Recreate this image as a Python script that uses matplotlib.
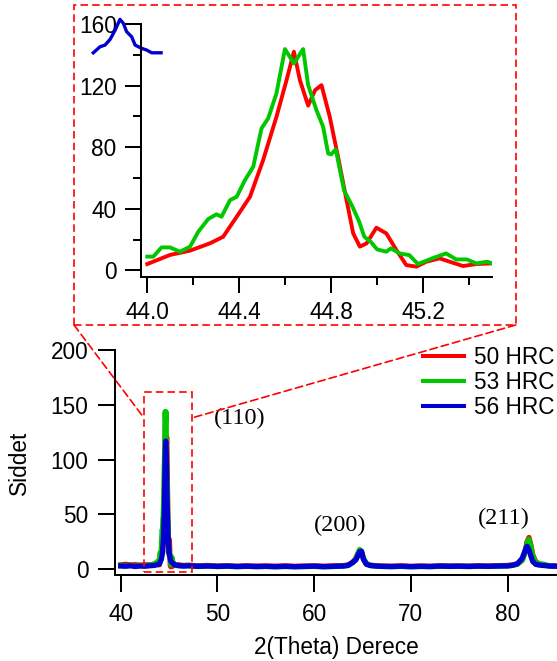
import matplotlib
matplotlib.use("Agg")
import matplotlib.pyplot as plt
from matplotlib.patches import Rectangle, ConnectionPatch
from matplotlib.ticker import MultipleLocator

plt.rcParams['font.family'] = ['Liberation Sans', 'DejaVu Sans']

# ---------------- data ----------------
series_labels = ["50 HRC", "53 HRC", "56 HRC"]
series_colors = ["#ff0000", "#00c800", "#0000d0"]

# detail around the (110) peak (inset)
inset_red_x = [44.0, 44.099, 44.186, 44.272, 44.33, 44.389, 44.447, 44.504, 44.562, 44.606,
               44.638, 44.664, 44.70, 44.73, 44.758, 44.794, 44.83, 44.867, 44.896, 44.925,
               44.954, 44.997, 45.04, 45.084, 45.127, 45.171, 45.214, 45.272, 45.316, 45.374,
               45.432, 45.497]
inset_red_y = [4.1, 10, 12.8, 17.5, 21.8, 34.8, 47.8, 71.6, 99.7, 123.6,
               142, 123.6, 107, 117, 120.3, 99.7, 73.7, 45.6, 24, 15.4,
               17.5, 27.7, 24, 13.2, 3.4, 2.4, 5.6, 7.8, 5.6, 2.8,
               4.1, 4.5]
inset_green_x = [44.0, 44.026, 44.062, 44.099, 44.142, 44.186, 44.222, 44.265, 44.301, 44.323,
                 44.36, 44.389, 44.425, 44.461, 44.497, 44.526, 44.562, 44.599, 44.638, 44.678,
                 44.70, 44.736, 44.765, 44.787, 44.80, 44.82, 44.856, 44.893, 44.922, 44.944,
                 44.972, 45.0, 45.04, 45.06, 45.098, 45.14, 45.178, 45.24, 45.30, 45.344,
                 45.39, 45.432, 45.48, 45.5]
inset_green_y = [8.9, 8.9, 14.9, 14.9, 12.1, 15.4, 25.1, 33.3, 36.4, 34.8,
                 45.6, 47.8, 58.6, 67.3, 92.2, 98.7, 114.9, 143.7, 134.4, 143.7,
                 120.3, 104.1, 93.3, 75.9, 75.3, 78.6, 52.1, 41.3, 31.6, 21.9,
                 18.6, 13.6, 12.1, 14.3, 11.0, 9.9, 4.1, 7.8, 11.0, 7.1,
                 7.1, 4.5, 5.6, 4.5]
# the displaced blue trace drawn at the inset's upper-left corner
inset_blue_x = [43.765, 43.794, 43.816, 43.838, 43.86, 43.881, 43.896, 43.91, 43.932, 43.947,
                43.975, 43.997, 44.019, 44.06]
inset_blue_y = [141.3, 145.2, 146.3, 150, 156, 163, 160.4, 155, 151.7, 146.3,
                144.2, 143.1, 141.3, 141.3]

# full pattern, left of the (110) peak
left_x = [40.0, 40.5, 41.0, 41.5, 42.0, 42.5, 43.0, 43.5, 43.8]
left_red = [4.0, 4.5, 4.0, 4.2, 3.8, 4.0, 4.2, 4.5, 4.5]
left_green = [3.5, 3.2, 3.6, 3.0, 3.4, 3.2, 3.8, 5.0, 7.0]
left_blue = [3.0, 2.8, 3.2, 2.6, 3.0, 2.8, 3.2, 3.6, 4.2]

# blue (110) peak
peak_blue_x = [44.0, 44.2, 44.3, 44.4, 44.5, 44.55, 44.6, 44.65, 44.7, 44.75,
               44.8, 44.9, 45.0, 45.2, 45.5]
peak_blue_y = [5, 9, 14, 25, 50, 75, 105, 117, 108, 85,
               60, 30, 15, 7, 4.5]

# right of the (110) peak: (200) and (211) reflections
right_x = [45.7, 46, 46.5, 47, 48, 49, 50, 51, 52, 53, 54, 55, 56, 57, 58, 59, 60, 61, 62,
           63, 63.5, 64.0, 64.3, 64.5, 64.7, 64.9, 65.1, 65.4, 65.8, 66.5, 67, 68, 69, 70,
           71, 72, 73, 74, 75, 76, 77, 78, 79, 80, 80.5, 81, 81.5, 81.8, 82.0, 82.2, 82.4,
           82.6, 82.9, 83.3, 83.8, 84.3, 85]
right_red = [4.0, 4.0, 3.5, 3.8, 3.2, 3.5, 3.0, 3.3, 2.8, 3.2, 2.9, 3.0, 2.8, 3.1, 2.7, 3.0, 3.2, 2.8, 3.1,
             3.4, 4.0, 6.5, 10, 14, 17.5, 15, 9, 5, 3.8, 3.2, 3.0, 2.8, 3.1, 2.7,
             3.0, 2.8, 3.2, 3.0, 3.1, 2.9, 3.2, 3.0, 3.3, 3.5, 4.0, 5.0, 8.5, 16, 25, 29, 22,
             13, 7, 4.5, 3.8, 3.2, 3.0]
right_green = [3.5, 3.2, 3.0, 3.3, 2.6, 3.0, 2.5, 2.8, 2.4, 2.7, 2.4, 2.6, 2.3, 2.6, 2.3, 2.5, 2.7, 2.3, 2.6,
               2.9, 3.5, 6.0, 9.5, 14, 18, 16, 10, 5.5, 3.5, 2.8, 2.6, 2.4, 2.7, 2.3,
               2.6, 2.4, 2.8, 2.6, 2.7, 2.5, 2.8, 2.6, 2.9, 3.0, 3.6, 4.5, 8.0, 15, 24, 27.5, 21,
               12, 6.5, 5.0, 4.5, 3.0, 2.8]
right_blue = [3.8, 3.4, 3.0, 3.2, 2.7, 3.0, 2.6, 2.9, 2.5, 2.8, 2.5, 2.7, 2.4, 2.7, 2.4, 2.6, 2.8, 2.4, 2.7,
              3.0, 3.5, 6.5, 8.5, 12, 16, 16.5, 9, 4.5, 3.4, 2.9, 2.7, 2.5, 2.8, 2.4,
              2.7, 2.5, 2.9, 2.7, 2.8, 2.6, 2.9, 2.7, 3.0, 3.1, 3.6, 5.0, 10, 17, 21, 18, 12,
              7, 4.5, 3.8, 3.4, 3.0, 2.8]

peak_labels = ["(110)", "(200)", "(211)"]
peak_label_x = [52.3, 62.7, 79.6]
peak_label_y = [138, 40.4, 46.8]

main_xticks = [40, 50, 60, 70, 80]
main_yticks = [0, 50, 100, 150, 200]
inset_xticks = [44.0, 44.4, 44.8, 45.2]
inset_xticklabels = ["44.0", "44.4", "44.8", "45.2"]
inset_yticks = [0, 40, 80, 120, 160]

# zoom box in main data coords
zoom_x0, zoom_x1 = 42.41, 47.34
zoom_y0, zoom_y1 = -2.2, 161.4
conn_y = 138

# ---------------- figure ----------------
W, H = 557, 661
fig = plt.figure(figsize=(W / 100, H / 100), dpi=100)

def fx(px):
    return px / W

def fy(py):
    return 1 - py / H

FS = 16.3
SPINE_W = 1.45

# main axes
ax = fig.add_axes([fx(115), fy(575), fx(557) - fx(115), fy(350) - fy(575)])
red_x = left_x + inset_red_x + right_x
red_y = left_red + inset_red_y + right_red
green_x = left_x + inset_green_x + right_x
green_y = left_green + inset_green_y + right_green
blue_x = left_x + peak_blue_x + right_x
blue_y = left_blue + peak_blue_y + right_blue

lw_main = 3.8
ax.plot(red_x, red_y, color=series_colors[0], lw=lw_main, label=series_labels[0], solid_joinstyle='round')
ax.plot(green_x, green_y, color=series_colors[1], lw=lw_main, label=series_labels[1], solid_joinstyle='round')
ax.plot(blue_x, blue_y, color=series_colors[2], lw=lw_main, label=series_labels[2], solid_joinstyle='round')

ax.set_xlim(39.41, 85.1)
ax.set_ylim(-5.2, 200)
ax.set_xticks(main_xticks)
ax.set_yticks(main_yticks)
for s in ['top', 'right']:
    ax.spines[s].set_visible(False)
for s in ['left', 'bottom']:
    ax.spines[s].set_linewidth(SPINE_W)
ax.tick_params(direction='out', length=12.5, width=SPINE_W, labelsize=FS, pad=6.5)
ax.tick_params(axis='x', pad=7.5)
ax.set_xlabel("2(Theta) Derece", fontsize=FS)
ax.set_ylabel("Siddet", fontsize=FS)
ax.xaxis.set_label_coords(0.5, (575 - 636) / 225)
ax.yaxis.set_label_coords((31 - 115) / 442, 0.5)

for t, x, y in zip(peak_labels, peak_label_x, peak_label_y):
    ax.text(x, y, t, fontsize=17.5, family=['Liberation Serif', 'DejaVu Serif'],
            ha='center', va='center')

leg = ax.legend(loc='upper left', bbox_to_anchor=(fx(423), fy(346)), bbox_transform=fig.transFigure,
                frameon=False, fontsize=FS, handlelength=1.8, handletextpad=0.45,
                labelspacing=0.08, borderpad=0, borderaxespad=0)
for h in leg.get_lines():
    h.set_linewidth(2.9)

dash = (0, (4.5, 2.5))
ax.add_patch(Rectangle((zoom_x0, zoom_y0), zoom_x1 - zoom_x0, zoom_y1 - zoom_y0,
                       fill=False, edgecolor='#ff0000', lw=1.2, linestyle=dash, clip_on=False, zorder=5))

# inset axes
ins = fig.add_axes([fx(141), fy(276.5), fx(492.3) - fx(141), fy(24) - fy(276.5)])
ins.patch.set_alpha(0)
lw_ins = 2.8
ins.plot(inset_red_x, inset_red_y, color=series_colors[0], lw=lw_ins, solid_joinstyle='round')
ins.plot(inset_green_x, inset_green_y, color=series_colors[1], lw=lw_ins, solid_joinstyle='round')
ins.plot(inset_blue_x, inset_blue_y, color=series_colors[2], lw=2.4, clip_on=False, solid_joinstyle='round')
ins.set_xlim(43.9726, 45.5013)
ins.set_ylim(-4.0, 160)
ins.set_xticks(inset_xticks)
ins.set_xticklabels(inset_xticklabels)
ins.set_yticks(inset_yticks)
ins.xaxis.set_minor_locator(MultipleLocator(0.2))
ins.yaxis.set_minor_locator(MultipleLocator(20))
for s in ['top', 'right']:
    ins.spines[s].set_visible(False)
for s in ['left', 'bottom']:
    ins.spines[s].set_linewidth(SPINE_W)
ins.tick_params(which='major', direction='out', length=11.5, width=SPINE_W, labelsize=FS, pad=6)
ins.tick_params(which='minor', direction='out', length=5.7, width=SPINE_W)

# inset frame and connectors (figure coordinates)
fig.add_artist(Rectangle((fx(74), fy(325)), fx(515.7) - fx(74), fy(5) - fy(325),
                         transform=fig.transFigure, fill=False, edgecolor='#ff0000',
                         lw=1.2, linestyle=dash))
for px, dx in [(74, zoom_x0), (515.7, zoom_x1)]:
    cp = ConnectionPatch(xyA=(fx(px), fy(325)), coordsA=fig.transFigure,
                         xyB=(dx, conn_y), coordsB=ax.transData,
                         color='#ff0000', lw=1.2, linestyle=dash)
    fig.add_artist(cp)

fig.savefig("out.png", dpi=100)
